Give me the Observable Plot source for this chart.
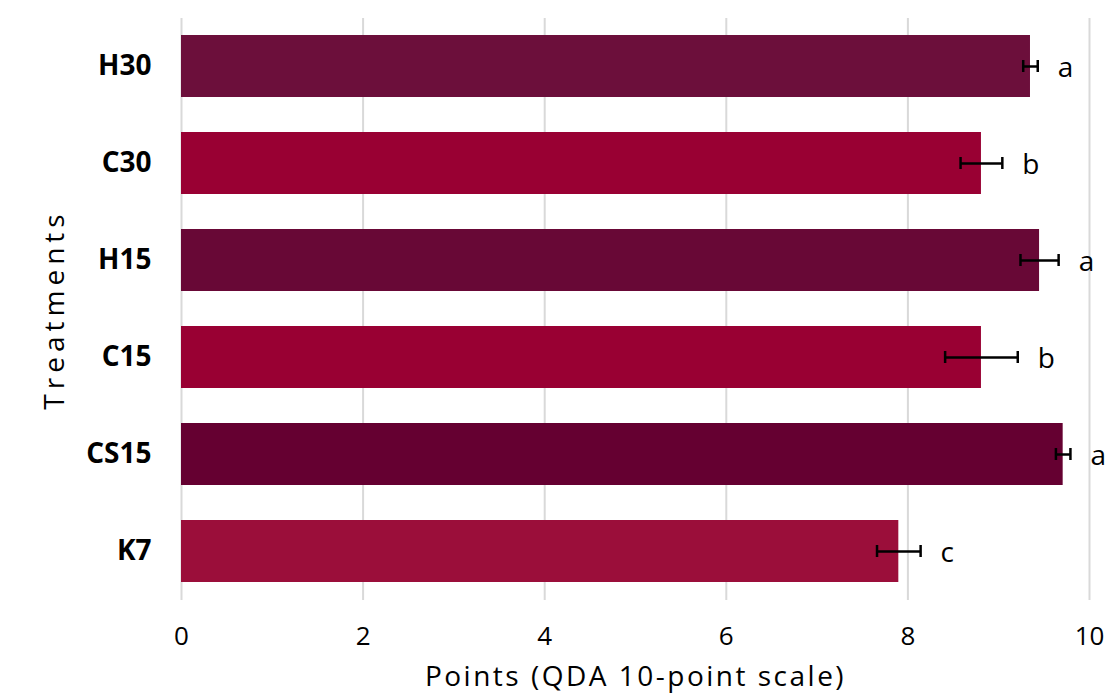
<!DOCTYPE html>
<html>
<head>
<meta charset="utf-8">
<script src="https://cdn.jsdelivr.net/npm/d3@7"></script>
<script src="https://cdn.jsdelivr.net/npm/@observablehq/plot@0.6"></script>
<style>
  html, body { margin: 0; padding: 0; background: #fff; overflow: hidden; }
  #chart svg { display: block; }
</style>
</head>
<body>
<div id="chart"></div>
<script>
const treatments = ["H30", "C30", "H15", "C15", "CS15", "K7"];
const means = [9.35, 8.81, 9.45, 8.81, 9.71, 7.90];
const errors = [0.08, 0.23, 0.21, 0.40, 0.08, 0.24];
const letters = ["a", "b", "a", "b", "a", "c"];
const colors = ["#6c0f3b", "#990033", "#680836", "#990033", "#650031", "#9b0e3a"];
const xTicks = [0, 2, 4, 6, 8, 10];
const xTitle = "Points (QDA 10-point scale)";
const yTitle = "Treatments";

const data = treatments.map((t, i) => ({
  t, mean: means[i], err: errors[i], lo: means[i] - errors[i], hi: means[i] + errors[i],
  letter: letters[i], color: colors[i]
}));

const font = "'Open Sans', sans-serif";

const chart = Plot.plot({
  width: 1106,
  height: 695,
  marginLeft: 181,
  marginRight: 17,
  marginTop: 18,
  marginBottom: 95,
  style: { fontFamily: font, background: "#fff", overflow: "hidden" },
  x: { domain: [0, 10], ticks: xTicks, label: null },
  y: { domain: treatments, paddingInner: 0.36, paddingOuter: 0.18, label: null },
  marks: [
    Plot.ruleX(xTicks, { stroke: "#d9d9d9", strokeWidth: 2 }),
    Plot.barX(data, { y: "t", x1: 0, x2: "mean", fill: "color" }),
    Plot.ruleY(data, { y: "t", x1: "lo", x2: "hi", stroke: "#000", strokeWidth: 2.5 }),
    Plot.tickX(data, { y: "t", x: "lo", stroke: "#000", strokeWidth: 2.5, insetTop: 25, insetBottom: 25 }),
    Plot.tickX(data, { y: "t", x: "hi", stroke: "#000", strokeWidth: 2.5, insetTop: 25, insetBottom: 25 }),
    Plot.text(data, { y: "t", x: "hi", text: "letter", textAnchor: "start", dx: 20, dy: 2, fontSize: 28, fill: "#000" }),
    Plot.axisX({ ticks: xTicks, tickSize: 0, tickPadding: 26, fontSize: 26, label: null, fill: "#000" }),
    Plot.axisY({ tickSize: 0, tickPadding: 30, fontSize: 28, fontWeight: "bold", label: null, fill: "#000" }),
    Plot.text([xTitle], { frameAnchor: "bottom", dy: 77, fontSize: 28, fill: "#000", textAnchor: "middle", lineAnchor: "middle" }),
    Plot.text([yTitle], { frameAnchor: "left", dx: -126, rotate: -90, fontSize: 28, fill: "#000", textAnchor: "middle", lineAnchor: "middle" })
  ]
});

// letter spacing for titles
chart.querySelectorAll("text").forEach(el => {
  if (el.textContent === xTitle) el.style.letterSpacing = "2.5px";
  if (el.textContent === yTitle) el.style.letterSpacing = "5px";
});

document.getElementById("chart").appendChild(chart);
</script>
</body>
</html>
